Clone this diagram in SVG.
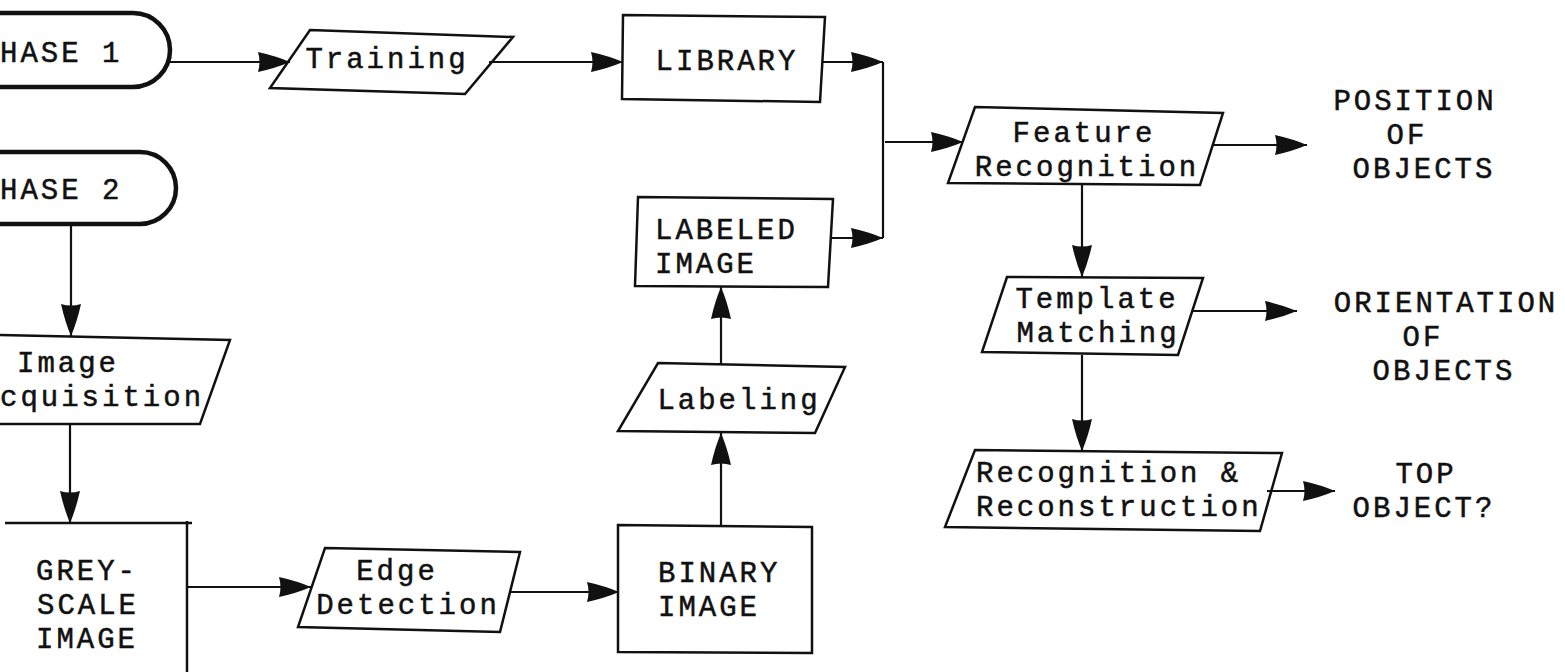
<svg xmlns="http://www.w3.org/2000/svg" width="1565" height="672" viewBox="0 0 1565 672">
<style>
  .shape { fill: none; stroke: #111; stroke-width: 2.5; stroke-linejoin: miter; }
  .term { fill: none; stroke: #111; stroke-width: 4.5; }
  .conn { fill: none; stroke: #111; stroke-width: 2.2; }
  text { font-family: "Liberation Mono", "Courier New", monospace; font-size: 29px; letter-spacing: 3px; fill: #111; stroke: #111; stroke-width: 0.5; }
  .c { text-anchor: middle; }
</style>
<defs>
  <marker id="arr" markerUnits="userSpaceOnUse" markerWidth="34" markerHeight="22" refX="32" refY="10" orient="auto">
    <path d="M0,0 Q18,4 32,10 Q18,16 0,20 Q3,10 0,0 Z" fill="#111"/>
  </marker>
</defs>
<rect width="1565" height="672" fill="#fff"/>

<g id="phase1">
  <path class="term" d="M-4,13 L133,13 A37,37 0 0 1 133,87 L-4,87"/>
  <text x="0" y="62">HASE 1</text>
</g>
<g id="phase2">
  <path class="term" d="M-4,152 L140,152 A36,36 0 0 1 140,224 L-4,224"/>
  <text x="0" y="199">HASE 2</text>
</g>
<g id="training">
  <polygon class="shape" points="310,30 513,37 465,94 270,88"/>
  <text class="c" x="387" y="68">Training</text>
</g>
<g id="library">
  <polygon class="shape" points="623,15 825,17 820,102 622,99"/>
  <text class="c" x="727" y="70">LIBRARY</text>
</g>
<g id="labeled-image">
  <polygon class="shape" points="638,197 833,199 828,287 635,286"/>
  <text x="655" y="239">LABELED</text>
  <text x="655" y="273">IMAGE</text>
</g>
<g id="labeling">
  <polygon class="shape" points="658,363 845,367 815,433 618,431"/>
  <text class="c" x="739" y="409">Labeling</text>
</g>
<g id="binary-image">
  <polygon class="shape" points="618,525 812,527 812,653 618,652"/>
  <text x="658" y="582">BINARY</text>
  <text x="658" y="616">IMAGE</text>
</g>
<g id="edge-detection">
  <polygon class="shape" points="325,548 520,552 500,632 298,627"/>
  <text class="c" x="397" y="580">Edge</text>
  <text class="c" x="408" y="614">Detection</text>
</g>
<g id="image-acquisition">
  <path class="shape" d="M-5,335 L230,340 L200,424 L-5,424"/>
  <text class="c" x="68" y="372">Image</text>
  <text x="0" y="406">cquisition</text>
</g>
<g id="grey-scale-image">
  <path class="shape" d="M5,523 L192,523 M187,521 L187,674"/>
  <text class="c" x="87" y="580">GREY-</text>
  <text class="c" x="88" y="614">SCALE</text>
  <text class="c" x="87" y="648">IMAGE</text>
</g>
<g id="feature-recognition">
  <polygon class="shape" points="975,107 1223,113 1200,185 948,183"/>
  <text class="c" x="1084" y="142">Feature</text>
  <text class="c" x="1087" y="176">Recognition</text>
</g>
<g id="template-matching">
  <polygon class="shape" points="1007,277 1203,278 1178,355 982,352"/>
  <text class="c" x="1097" y="308">Template</text>
  <text class="c" x="1098" y="342">Matching</text>
</g>
<g id="recognition-reconstruction">
  <polygon class="shape" points="975,450 1282,453 1260,531 945,527"/>
  <text x="976" y="482">Recognition &amp;</text>
  <text x="976" y="516">Reconstruction</text>
</g>
<g id="position-of-objects">
  <text class="c" x="1415" y="110">POSITION</text>
  <text class="c" x="1407" y="144">OF</text>
  <text class="c" x="1424" y="178">OBJECTS</text>
</g>
<g id="orientation-of-objects">
  <text class="c" x="1446" y="312">ORIENTATION</text>
  <text class="c" x="1423" y="346">OF</text>
  <text class="c" x="1444" y="380">OBJECTS</text>
</g>
<g id="top-object">
  <text class="c" x="1426" y="483">TOP</text>
  <text class="c" x="1424" y="517">OBJECT?</text>
</g>

<g id="connectors">
  <path class="conn" d="M170,62 L290,62" marker-end="url(#arr)"/>
  <path class="conn" d="M489,62 L623,62" marker-end="url(#arr)"/>
  <path class="conn" d="M822,62 L883,62" marker-end="url(#arr)"/>
  <path class="conn" d="M831,238 L883,238" marker-end="url(#arr)"/>
  <path class="conn" d="M883,62 L883,238"/>
  <path class="conn" d="M885,142 L963,142" marker-end="url(#arr)"/>
  <path class="conn" d="M1213,145 L1307,145" marker-end="url(#arr)"/>
  <path class="conn" d="M1082,185 L1082,277" marker-end="url(#arr)"/>
  <path class="conn" d="M1192,311 L1297,311" marker-end="url(#arr)"/>
  <path class="conn" d="M1082,355 L1082,451" marker-end="url(#arr)"/>
  <path class="conn" d="M1267,491 L1335,491" marker-end="url(#arr)"/>
  <path class="conn" d="M71,224 L71,336" marker-end="url(#arr)"/>
  <path class="conn" d="M70,424 L70,523" marker-end="url(#arr)"/>
  <path class="conn" d="M187,587 L311,587" marker-end="url(#arr)"/>
  <path class="conn" d="M510,592 L619,592" marker-end="url(#arr)"/>
  <path class="conn" d="M721,525 L721,433" marker-end="url(#arr)"/>
  <path class="conn" d="M721,364 L721,287" marker-end="url(#arr)"/>
</g>
</svg>
